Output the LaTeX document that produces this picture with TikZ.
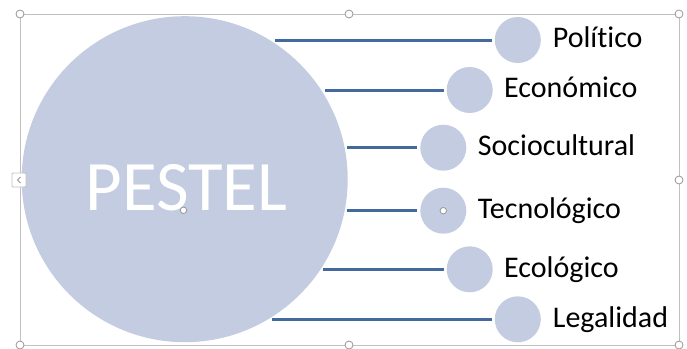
\documentclass[tikz,border=0pt]{standalone}
\usepackage{fontspec}
\setmainfont{Carlito}[Ligatures={NoCommon,NoDiscretionary}]
\definecolor{circfill}{RGB}{195,204,224}
\definecolor{linkblue}{RGB}{68,105,157}
\definecolor{framegray}{RGB}{192,192,192}
\definecolor{handlegray}{RGB}{150,150,150}
\begin{document}
\begin{tikzpicture}[x=1pt,y=-1pt,
  bigcirc/.style={circle,fill=circfill,draw=none,minimum size=326pt,inner sep=0pt,outer sep=2pt},
  smallcirc/.style={circle,fill=circfill,draw=none,minimum size=46pt,inner sep=0pt,outer sep=3pt},
  link/.style={draw=linkblue,line width=3pt},
  lbl/.style={anchor=base west,inner sep=0pt,font=\fontsize{30}{36}\selectfont,text=black},
  handle/.style={circle,fill=white,draw=handlegray,line width=0.8pt,minimum size=8pt,inner sep=0pt},
  smallhandle/.style={circle,fill=white,draw=handlegray,line width=0.8pt,minimum size=6.5pt,inner sep=0pt}]
\useasboundingbox (0,0) rectangle (687,348);
% selection frame
\draw[framegray,line width=1pt] (20,14) rectangle (679,345);
% main circle
\node[bigcirc] (big) at (184.7,179.2) {};
\node[anchor=base,inner sep=0pt,text=white,font=\fontsize{71}{80}\selectfont] (title) at (186.5,210) {PESTEL};
% small circles
\node[smallcirc] (s1) at (517.8,40) {};
\node[smallcirc] (s2) at (469.7,90) {};
\node[smallcirc] (s3) at (443.3,147.7) {};
\node[smallcirc] (s4) at (443.3,210.7) {};
\node[smallcirc] (s5) at (469.7,269.3) {};
\node[smallcirc] (s6) at (517.8,319.3) {};
% connectors
\draw[link] (s1.west -| big.57.52) -- (s1.west);
\draw[link] (s2.west -| big.32.72) -- (s2.west);
\draw[link] (s3.west -| big.11.01) -- (s3.west);
\draw[link] (s4.west -| big.-11.01) -- (s4.west);
\draw[link] (s5.west -| big.-33.10) -- (s5.west);
\draw[link] (s6.west -| big.-58.11) -- (s6.west);
% labels
\node[lbl] (t1) at (552.7,47.8) {Político};
\node[lbl] (t2) at (504,97.8) {Económico};
\node[lbl] (t3) at (477.7,155.5) {Sociocultural};
\node[lbl] (t4) at (477.7,218.5) {Tecnológico};
\node[lbl] (t5) at (504,277.1) {Ecológico};
\node[lbl] (t6) at (552.7,327.1) {Legalidad};
% selection handles
\foreach \hx/\hy in {20/14,349/14,679/14,20/345,349/345,679/345,679/180}
  \node[handle] at (\hx,\hy) {};
\node[smallhandle] at (183.5,210.3) {};
\node[smallhandle] at (443.3,210.7) {};
\draw[fill=white,draw=framegray,line width=0.8pt,rounded corners=1pt] (12,173) rectangle (26,187);
\draw[handlegray,line width=0.9pt] (20.5,177) -- (17.5,180) -- (20.5,183);
\end{tikzpicture}
\end{document}
